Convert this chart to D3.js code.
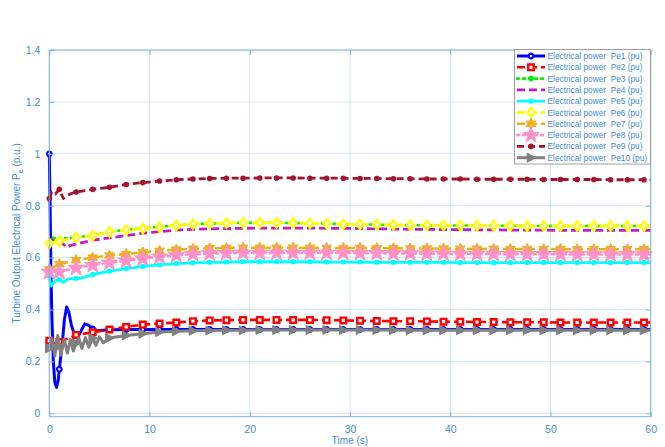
<!DOCTYPE html>
<html>
<head>
<meta charset="utf-8">
<script src="https://cdn.jsdelivr.net/npm/d3@7/dist/d3.min.js"></script>
<style>
  html, body { margin: 0; padding: 0; background: #fff; }
  svg { display: block; font-family: "Liberation Sans", Arial, sans-serif; }
</style>
</head>
<body>
<svg id="chart" width="665" height="447"></svg>
<script>
// Sample times (s) shared by all series; markers sit on every one except the last
const T = [0, 1, 2.67, 4.33, 6, 7.67, 9.33, 11, 12.67, 14.33, 16, 17.67, 19.33, 21, 22.67,
  24.33, 26, 27.67, 29.33, 31, 32.67, 34.33, 36, 37.67, 39.33, 41, 42.67, 44.33, 46, 47.67,
  49.33, 51, 52.67, 54.33, 56, 57.67, 59.33, 60];

// Electrical power of each unit (pu) at the sample times
const Pe1 = [1.0, 0.17, 0.305, 0.325, 0.322, 0.323, 0.323, 0.323, 0.323, 0.323, 0.323, 0.323,
  0.323, 0.323, 0.323, 0.323, 0.323, 0.323, 0.323, 0.323, 0.323, 0.323, 0.323, 0.323, 0.323,
  0.323, 0.323, 0.323, 0.323, 0.323, 0.323, 0.323, 0.323, 0.323, 0.323, 0.323, 0.323, 0.323];
const Pe2 = [0.28, 0.275, 0.302, 0.312, 0.323, 0.333, 0.342, 0.346, 0.35, 0.355, 0.358, 0.359,
  0.36, 0.36, 0.36, 0.36, 0.36, 0.359, 0.358, 0.357, 0.356, 0.355, 0.355, 0.354, 0.353, 0.353,
  0.352, 0.352, 0.351, 0.351, 0.351, 0.35, 0.35, 0.35, 0.35, 0.35, 0.35, 0.35];
const Pe3 = [0.66, 0.672, 0.678, 0.686, 0.7, 0.707, 0.713, 0.718, 0.725, 0.729, 0.731, 0.733,
  0.734, 0.734, 0.734, 0.733, 0.732, 0.731, 0.729, 0.728, 0.727, 0.726, 0.725, 0.725, 0.724,
  0.724, 0.723, 0.723, 0.723, 0.722, 0.722, 0.722, 0.722, 0.722, 0.722, 0.722, 0.722, 0.722];
const Pe4 = [0.65, 0.658, 0.652, 0.667, 0.676, 0.685, 0.694, 0.7, 0.706, 0.709, 0.711, 0.712,
  0.713, 0.714, 0.714, 0.714, 0.714, 0.713, 0.713, 0.712, 0.711, 0.71, 0.709, 0.709, 0.708,
  0.708, 0.707, 0.707, 0.706, 0.706, 0.706, 0.705, 0.705, 0.705, 0.705, 0.705, 0.705, 0.705];
const Pe5 = [0.53, 0.515, 0.52, 0.535, 0.548, 0.558, 0.566, 0.572, 0.577, 0.58, 0.582, 0.583,
  0.584, 0.584, 0.584, 0.584, 0.584, 0.583, 0.583, 0.583, 0.582, 0.582, 0.582, 0.582, 0.582,
  0.581, 0.581, 0.581, 0.581, 0.581, 0.581, 0.581, 0.581, 0.581, 0.581, 0.581, 0.581, 0.581];
const Pe6 = [0.655, 0.663, 0.677, 0.684, 0.699, 0.706, 0.712, 0.717, 0.724, 0.729, 0.731, 0.733,
  0.734, 0.734, 0.734, 0.733, 0.732, 0.731, 0.729, 0.728, 0.727, 0.726, 0.725, 0.725, 0.724,
  0.724, 0.723, 0.723, 0.723, 0.722, 0.722, 0.722, 0.722, 0.722, 0.722, 0.722, 0.722, 0.722];
const Pe7 = [0.555, 0.575, 0.59, 0.6, 0.608, 0.614, 0.62, 0.626, 0.631, 0.634, 0.636, 0.637,
  0.638, 0.638, 0.638, 0.638, 0.638, 0.637, 0.637, 0.637, 0.636, 0.636, 0.635, 0.635, 0.635,
  0.634, 0.634, 0.634, 0.633, 0.633, 0.633, 0.633, 0.632, 0.632, 0.632, 0.632, 0.632, 0.632];
const Pe8 = [0.545, 0.545, 0.56, 0.571, 0.58, 0.588, 0.596, 0.603, 0.609, 0.613, 0.616, 0.617,
  0.618, 0.618, 0.618, 0.618, 0.618, 0.618, 0.618, 0.617, 0.617, 0.616, 0.616, 0.615, 0.615,
  0.614, 0.614, 0.614, 0.613, 0.613, 0.613, 0.613, 0.612, 0.612, 0.612, 0.612, 0.612, 0.612];
const Pe9 = [0.828, 0.863, 0.853, 0.863, 0.871, 0.882, 0.889, 0.895, 0.9, 0.903, 0.905, 0.906,
  0.906, 0.907, 0.907, 0.907, 0.906, 0.906, 0.906, 0.905, 0.905, 0.904, 0.904, 0.903, 0.903,
  0.903, 0.902, 0.902, 0.902, 0.902, 0.901, 0.901, 0.901, 0.901, 0.9, 0.9, 0.9, 0.9];
const Pe10 = [0.25, 0.26, 0.27, 0.29, 0.29, 0.3, 0.307, 0.313, 0.316, 0.318, 0.319, 0.32,
  0.32, 0.321, 0.321, 0.321, 0.321, 0.321, 0.321, 0.321, 0.321, 0.321, 0.32, 0.32, 0.32,
  0.32, 0.32, 0.32, 0.32, 0.32, 0.32, 0.32, 0.32, 0.32, 0.32, 0.32, 0.32, 0.32];

// Extra [time, pu] samples during the first seconds of the transient
const Pe1Early = [[0.08, 0.8], [0.15, 0.58], [0.25, 0.38], [0.4, 0.2], [0.55, 0.12], [0.72, 0.1],
  [0.88, 0.125], [1.3, 0.27], [1.5, 0.36], [1.73, 0.41], [1.95, 0.39], [2.2, 0.34], [2.45, 0.31],
  [2.95, 0.3], [3.2, 0.32], [3.55, 0.345], [3.9, 0.34], [4.8, 0.318], [5.4, 0.32]];
const Pe2Early = [[0.4, 0.27]];
const Pe3Early = [[0.3, 0.677]];
const Pe4Early = [[0.3, 0.668], [0.7, 0.662], [1.4, 0.652], [1.7, 0.64], [2.2, 0.648]];
const Pe5Early = [[0.15, 0.49], [0.4, 0.5], [0.7, 0.513], [1.4, 0.505], [1.9, 0.518], [3.1, 0.52]];
const Pe9Early = [[0.24, 0.853], [0.6, 0.845], [1.4, 0.828], [1.8, 0.84], [2.2, 0.847]];
const Pe10Early = [[0.25, 0.29], [0.55, 0.22], [0.85, 0.3], [1.15, 0.225], [1.5, 0.285],
  [1.8, 0.232], [2.1, 0.285], [2.4, 0.24], [2.95, 0.29], [3.25, 0.25], [3.6, 0.292],
  [3.95, 0.255], [4.65, 0.262], [5.0, 0.295], [5.4, 0.272]];

const xTicks = [0, 10, 20, 30, 40, 50, 60];
const yTicks = [0, 0.2, 0.4, 0.6, 0.8, 1, 1.2, 1.4];
const legendLabels = ["Pe1", "Pe2", "Pe3", "Pe4", "Pe5", "Pe6", "Pe7", "Pe8", "Pe9", "Pe10"]
  .map(n => "Electrical power\u00a0\u00a0" + n + " (pu)");

// Marker outlines
const hexagram = (() => {
  const pts = [];
  for (let i = 0; i < 12; i++) {
    const a = -Math.PI / 2 + i * Math.PI / 6;
    const r = i % 2 === 0 ? 5.6 : 3;
    pts.push([r * Math.cos(a), r * Math.sin(a)]);
  }
  return "M" + pts.map(p => p.join(",")).join("L") + "Z";
})();
const shapes = {
  circle: "M2.3,0A2.3,2.3 0 1,1 -2.3,0A2.3,2.3 0 1,1 2.3,0Z",
  dot: "M2.8,0A2.8,2.8 0 1,1 -2.8,0A2.8,2.8 0 1,1 2.8,0Z",
  square: "M-2.8,-2.8H2.8V2.8H-2.8Z",
  small: "M-1.9,-1.9H1.9V1.9H-1.9Z",
  diamond: "M0,-4.8L3.4,0L0,4.8L-3.4,0Z",
  hexagram: hexagram,
  star: d3.symbol(d3.symbolStar, 85)(),
  tri: "M-3.8,-4.5L4.8,0L-3.8,4.5Z"
};

const series = [
  { v: Pe1, early: Pe1Early, color: "#0000ff", w: 3, dash: null, m: "circle", mFill: "#fff", mW: 2.2 },
  { v: Pe2, early: Pe2Early, color: "#ff0000", w: 2.6, dash: "8,4", m: "square", mFill: "#fff", mW: 2.4 },
  { v: Pe3, early: Pe3Early, color: "#00ee00", w: 2.6, dash: "2,4", m: "dot", mFill: "#00ee00", mW: 0 },
  { v: Pe4, early: Pe4Early, color: "#bf1fbf", w: 2.8, dash: "8,4", m: null },
  { v: Pe5, early: Pe5Early, color: "#00ffff", w: 2.8, dash: null, m: "small", mFill: "#00ffff", mW: 1 },
  { v: Pe6, early: [], color: "#ffff00", w: 2.8, dash: "8,4", m: "diamond", mFill: "#fff", mW: 2.2 },
  { v: Pe7, early: [], color: "#edb120", w: 2.6, dash: "8,4", m: "hexagram", mFill: "#edb120", mW: 1 },
  { v: Pe8, early: [], color: "#ff91c8", w: 2.6, dash: "2,4", m: "star", mFill: "#ff91c8", mW: 1 },
  { v: Pe9, early: Pe9Early, color: "#a2142f", w: 2.8, dash: "7,4", m: "dot", mFill: "#a2142f", mW: 0 },
  { v: Pe10, early: Pe10Early, color: "#808080", w: 3, dash: null, m: "tri", mFill: "#808080", mW: 1 }
];

const axisColor = "#7fb2e0";
const textColor = "#3f8bd4";
const gridColor = "#d5e6f5";

const svg = d3.select("#chart");
const x = d3.scaleLinear().domain([0, 60]).range([49.3, 650.7]);
const y = d3.scaleLinear().domain([-0.013, 1.4]).range([416.7, 50]);
const [x0, x1] = x.range();
const [yb, yt] = y.range();

// Grid
svg.append("g").selectAll("line").data(xTicks).join("line")
  .attr("x1", d => x(d)).attr("x2", d => x(d)).attr("y1", yt).attr("y2", yb)
  .attr("stroke", gridColor).attr("stroke-width", 1);
svg.append("g").selectAll("line").data(yTicks).join("line")
  .attr("x1", x0).attr("x2", x1).attr("y1", d => y(d)).attr("y2", d => y(d))
  .attr("stroke", gridColor).attr("stroke-width", 1);

// Series
const line = d3.line().x(d => x(d[0])).y(d => y(d[1]));
series.forEach(s => {
  const pts = T.map((t, i) => [t, s.v[i]]).concat(s.early).sort((a, b) => a[0] - b[0]);
  const g = svg.append("g");
  g.append("path").attr("d", line(pts)).attr("fill", "none")
    .attr("stroke", s.color).attr("stroke-width", s.w)
    .attr("stroke-linejoin", "round")
    .attr("stroke-linecap", s.dash && s.dash.startsWith("2,") ? "round" : "butt")
    .attr("stroke-dasharray", s.dash);
  if (s.m) {
    g.selectAll("path.mk").data(T.slice(0, -1).map((t, i) => [t, s.v[i]])).join("path")
      .attr("class", "mk").attr("d", shapes[s.m])
      .attr("transform", d => `translate(${x(d[0])},${y(d[1])})`)
      .attr("fill", s.mFill).attr("stroke", s.color).attr("stroke-width", s.mW);
  }
});

// Axes box with inward ticks
const axes = svg.append("g");
axes.append("rect").attr("x", x0).attr("y", yt).attr("width", x1 - x0).attr("height", yb - yt)
  .attr("fill", "none").attr("stroke", axisColor).attr("stroke-width", 1);
const xAxis = d3.axisBottom(x).tickValues(xTicks).tickSize(-5).tickPadding(9).tickFormat(d3.format("d"));
const yAxis = d3.axisLeft(y).tickValues(yTicks).tickSize(-5).tickPadding(9).tickFormat(d => d === 0 || d === 1 ? d3.format("d")(d) : d3.format(".1f")(d));
const gx = axes.append("g").attr("transform", `translate(0,${yb})`).call(xAxis);
const gy = axes.append("g").attr("transform", `translate(${x0},0)`).call(yAxis);
const gxTop = axes.append("g").attr("transform", `translate(0,${yt})`)
  .call(d3.axisTop(x).tickValues(xTicks).tickSize(-5).tickFormat(""));
const gyRight = axes.append("g").attr("transform", `translate(${x1},0)`)
  .call(d3.axisRight(y).tickValues(yTicks).tickSize(-5).tickFormat(""));
[gx, gy, gxTop, gyRight].forEach(g => {
  g.select(".domain").remove();
  g.selectAll(".tick line").attr("stroke", axisColor);
  g.selectAll(".tick text").attr("fill", textColor).attr("font-size", 10.5)
    .attr("font-family", "'Liberation Sans', Arial, sans-serif");
});

// Axis labels
svg.append("text").attr("x", (x0 + x1) / 2).attr("y", 444).attr("text-anchor", "middle")
  .attr("fill", textColor).attr("font-size", 10).text("Time (s)");
const yl = svg.append("text").attr("transform", `translate(20,${(yt + yb) / 2}) rotate(-90)`)
  .attr("text-anchor", "middle").attr("fill", textColor).attr("font-size", 10);
yl.append("tspan").text("Turbine Output Electrical Power P");
yl.append("tspan").attr("font-size", 7).attr("dy", 2.5).text("e");
yl.append("tspan").attr("dy", -2.5).text(" (p.u.)");

// Legend
const lg = svg.append("g");
lg.append("rect").attr("x", 514.5).attr("y", 49.5).attr("width", 136).attr("height", 114.5)
  .attr("fill", "#fff").attr("stroke", "#a0a0a0").attr("stroke-width", 1);
series.forEach((s, i) => {
  const cy = 56 + i * 11.3;
  lg.append("line").attr("x1", 517).attr("x2", 545).attr("y1", cy).attr("y2", cy)
    .attr("stroke", s.color).attr("stroke-width", s.w).attr("stroke-dasharray", s.dash)
    .attr("stroke-linecap", s.dash && s.dash.startsWith("2,") ? "round" : "butt");
  if (s.m) {
    lg.append("path").attr("d", shapes[s.m]).attr("transform", `translate(531,${cy})`)
      .attr("fill", s.mFill).attr("stroke", s.color).attr("stroke-width", s.mW);
  }
  lg.append("text").attr("x", 547.5).attr("y", cy + 3).attr("font-size", 8.3)
    .attr("fill", textColor).text(legendLabels[i]);
});
</script>
</body>
</html>
